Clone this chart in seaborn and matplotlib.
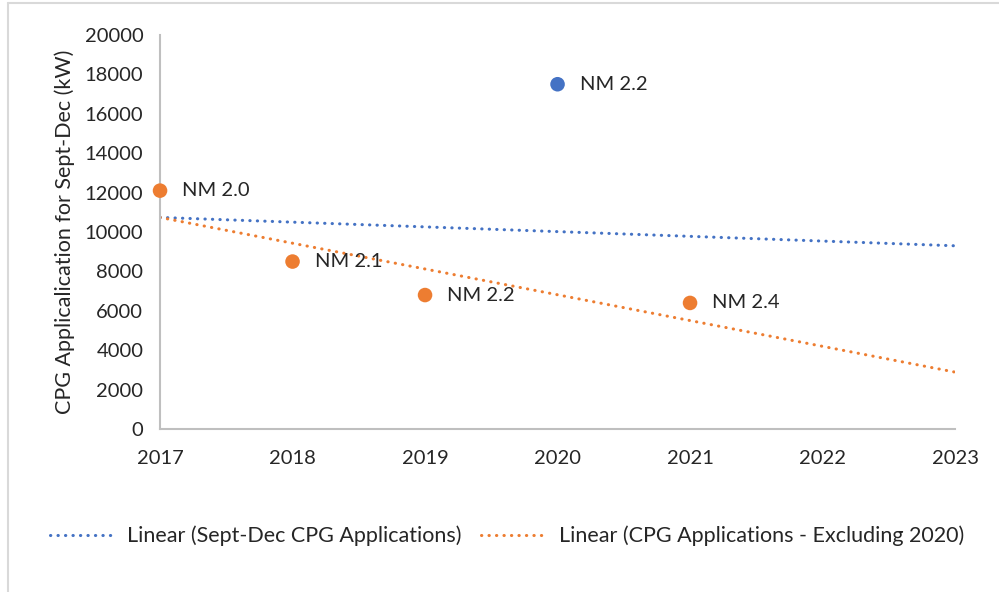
import numpy as np
import pandas as pd
import matplotlib
matplotlib.use("Agg")
import matplotlib.pyplot as plt
import seaborn as sns
from matplotlib.lines import Line2D

# data
years = [2017, 2018, 2019, 2020, 2021]
cpg_kw = [12100, 8500, 6800, 17500, 6400]
point_labels = ["NM 2.0", "NM 2.1", "NM 2.2", "NM 2.2", "NM 2.4"]
excluded_year = 2020
x_ticks = [2017, 2018, 2019, 2020, 2021, 2022, 2023]
y_ticks = [0, 2000, 4000, 6000, 8000, 10000, 12000, 14000, 16000, 18000, 20000]
trend_names = ["Linear (Sept-Dec CPG Applications)",
               "Linear (CPG Applications - Excluding 2020)"]

BLUE = "#4472C4"
ORANGE = "#ED7D31"
AXIS_GRAY = "#BFBFBF"
TEXT = "#262626"
FS = 14.5

sns.set_theme(style="white")
plt.rcParams['font.family'] = ['Lato', 'DejaVu Sans']

df = pd.DataFrame({"year": years, "kw": cpg_kw, "label": point_labels})
df["group"] = np.where(df["year"] == excluded_year, "all", "excl")

fig = plt.figure(figsize=(9.99, 5.92), dpi=100)
ax = fig.add_axes([0.1602, 0.2753, 0.7958, 0.6656])

# trend lines (linear fits like Excel trendlines)
x_line = np.array([x_ticks[0], x_ticks[-1]], dtype=float)
fit_all = np.polyfit(df["year"], df["kw"], 1)
sub = df[df["group"] == "excl"]
fit_excl = np.polyfit(sub["year"], sub["kw"], 1)
dots = (0, (0.1, 2.35))
for fit, color in [(fit_all, BLUE), (fit_excl, ORANGE)]:
    sns.lineplot(x=x_line, y=np.polyval(fit, x_line), ax=ax, color=color,
                 lw=2.2, linestyle=dots, dash_capstyle="round")

sns.scatterplot(data=df, x="year", y="kw", hue="group",
                palette={"all": BLUE, "excl": ORANGE}, s=110,
                edgecolor="none", ax=ax, legend=False, zorder=3, clip_on=False)

for _, r in df.iterrows():
    ax.annotate(r["label"], (r["year"], r["kw"]), xytext=(16, 0),
                textcoords="offset points", va="center", ha="left",
                fontsize=FS, color=TEXT)

ax.set_xlim(x_ticks[0], x_ticks[-1])
ax.set_ylim(y_ticks[0], y_ticks[-1])
ax.set_xticks(x_ticks)
ax.set_yticks(y_ticks)
ax.tick_params(axis="both", labelsize=FS, colors=TEXT, length=0)
ax.tick_params(axis="x", pad=15)
ax.tick_params(axis="y", pad=12)
ax.set_xlabel("")
ax.set_ylabel("CPG Applicalication for Sept-Dec (kW)", fontsize=15.5,
              color=TEXT, labelpad=7)

for side in ["top", "right"]:
    ax.spines[side].set_visible(False)
for side in ["left", "bottom"]:
    ax.spines[side].set_color(AXIS_GRAY)
    ax.spines[side].set_linewidth(1.5)

handles = [Line2D([0], [0], color=BLUE, lw=2.2, linestyle=dots, dash_capstyle="round"),
           Line2D([0], [0], color=ORANGE, lw=2.2, linestyle=dots, dash_capstyle="round")]
fig.legend(handles, trend_names, loc="center", bbox_to_anchor=(0.5075, 0.095),
           ncol=2, frameon=False, fontsize=15.5, handlelength=3.0,
           columnspacing=0.9, handletextpad=0.6, labelcolor=TEXT)

# light chart-area frame along left and top edges
fig.add_artist(Line2D([0.0085, 0.0085], [0.0, 0.995], color="#D9D9D9", lw=1.5,
                      transform=fig.transFigure))
fig.add_artist(Line2D([0.0085, 1.0], [0.995, 0.995], color="#D9D9D9", lw=1.5,
                      transform=fig.transFigure))

fig.savefig("out.png", dpi=100)
